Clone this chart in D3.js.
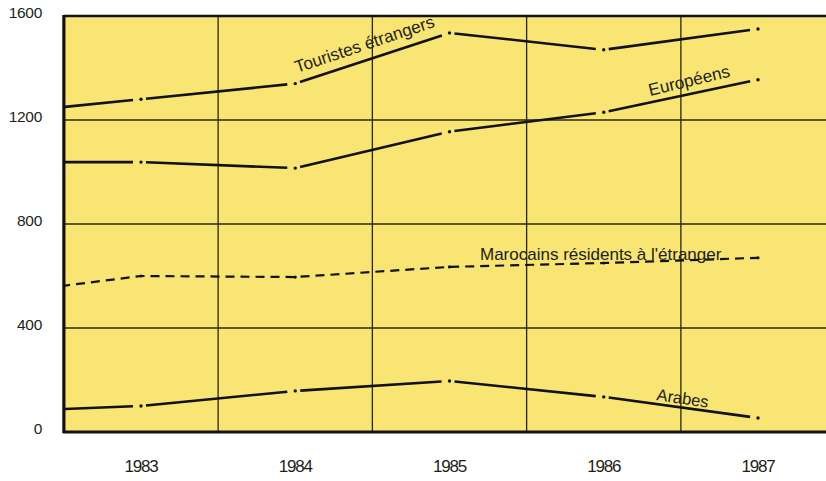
<!DOCTYPE html>
<html>
<head>
<meta charset="utf-8">
<script src="https://cdn.jsdelivr.net/npm/d3@7"></script>
<style>
  body { margin: 0; background: #fff; }
  text { font-family: "Liberation Sans", Arial, sans-serif; fill: #1e1e1a; }
</style>
</head>
<body>
<svg id="chart" width="826" height="481"></svg>
<script>
// values (thousands of arrivals)
const years = [1982, 1983, 1984, 1985, 1986, 1987]
const yearLabels = [1983, 1984, 1985, 1986, 1987]
const yTicks = [0, 400, 800, 1200, 1600]
const touristes = [1220, 1280, 1340, 1535, 1470, 1550]
const europeens = [1038, 1038, 1015, 1155, 1230, 1355]
const marocains = [525, 600, 596, 635, 650, 670]
const arabes = [77, 100, 158, 196, 135, 54]

const svg = d3.select("#chart")
const x = d3.scaleLinear().domain([1983, 1987]).range([141, 758])
const y = d3.scaleLinear().domain([0, 1600]).range([432, 16])
const left = x(1982.5), right = 826

// yellow plot area
svg.append("rect")
    .attr("x", left).attr("y", y(1600))
    .attr("width", right - left).attr("height", y(0) - y(1600))
    .attr("fill", "#f8e574")

svg.append("defs").append("clipPath").attr("id", "plotclip")
    .append("rect")
    .attr("x", left + 1).attr("y", 0)
    .attr("width", right - left).attr("height", 481)

// grid
const grid = svg.append("g").attr("stroke", "#2a2710").attr("stroke-width", 1.3)
grid.selectAll(".hgrid").data([400, 800, 1200]).join("line")
    .attr("x1", left).attr("x2", right)
    .attr("y1", d => y(d)).attr("y2", d => y(d))
grid.selectAll(".vgrid").data([1983.5, 1984.5, 1985.5, 1986.5]).join("line")
    .attr("x1", d => x(d)).attr("x2", d => x(d))
    .attr("y1", y(1600)).attr("y2", y(0))

// frame: top, bottom, left
svg.append("line").attr("x1", left).attr("x2", right).attr("y1", y(1600)).attr("y2", y(1600))
    .attr("stroke", "#111").attr("stroke-width", 2.5)
svg.append("line").attr("x1", left - 1).attr("x2", right).attr("y1", y(0)).attr("y2", y(0))
    .attr("stroke", "#111").attr("stroke-width", 3)
svg.append("line").attr("x1", left).attr("x2", left).attr("y1", y(1600) - 1).attr("y2", y(0) + 1)
    .attr("stroke", "#111").attr("stroke-width", 3.2)

// axis labels
svg.selectAll(".ylab").data(yTicks).join("text")
    .attr("x", 42).attr("y", d => y(d) + 1.5)
    .attr("text-anchor", "end")
    .attr("font-size", 15.5)
    .attr("letter-spacing", -0.3)
    .text(d => d)
svg.selectAll(".xlab").data(yearLabels).join("text")
    .attr("x", d => x(d)).attr("y", 472)
    .attr("text-anchor", "middle")
    .attr("font-size", 17)
    .attr("letter-spacing", -1.2)
    .text(d => d)

const lines = svg.append("g").attr("clip-path", "url(#plotclip)")
const line = d3.line()

// solid series: each point marked by a small gap with a dot in it
function draw_gapped(values) {
    let pts = years.map((yr, i) => [x(yr), y(values[i])])
    for (let i = 0; i < pts.length - 1; i++) {
        let a = pts[i], b = pts[i + 1]
        let dx = b[0] - a[0], dy = b[1] - a[1]
        let len = Math.sqrt(dx * dx + dy * dy)
        let ux = dx / len, uy = dy / len
        let after = i == 0 ? 0 : 5
        let before = 8
        lines.append("path")
            .attr("d", line([[a[0] + ux * after, a[1] + uy * after], [b[0] - ux * before, b[1] - uy * before]]))
            .attr("fill", "none")
            .attr("stroke", "#111")
            .attr("stroke-width", 2.6)
    }
    lines.selectAll(null).data(pts.slice(1)).join("circle")
        .attr("cx", d => d[0]).attr("cy", d => d[1])
        .attr("r", 1.7).attr("fill", "#111")
}

draw_gapped(touristes)
draw_gapped(europeens)
draw_gapped(arabes)

// dashed series
let mpts = years.map((yr, i) => [x(yr), y(marocains[i])])
lines.append("path")
    .attr("d", line(mpts))
    .attr("fill", "none")
    .attr("stroke", "#111")
    .attr("stroke-width", 2.2)
    .attr("stroke-dasharray", "9,6")
lines.selectAll(null).data(mpts.slice(1)).join("circle")
    .attr("cx", d => d[0]).attr("cy", d => d[1])
    .attr("r", 1.6).attr("fill", "#111")

// series labels
function label(txt, lx, ly, angle, size) {
    svg.append("text")
        .attr("transform", "translate(" + lx + "," + ly + ") rotate(" + angle + ")")
        .attr("font-size", size)
        .text(txt)
}
label("Touristes étrangers", 297, 73, -18.5, 17.2)
label("Européens", 650, 96, -13.5, 17.2)
label("Marocains résidents à l'étranger", 480, 260, 0, 17)
label("Arabes", 656, 400, 8.5, 16.5)
</script>
</body>
</html>
